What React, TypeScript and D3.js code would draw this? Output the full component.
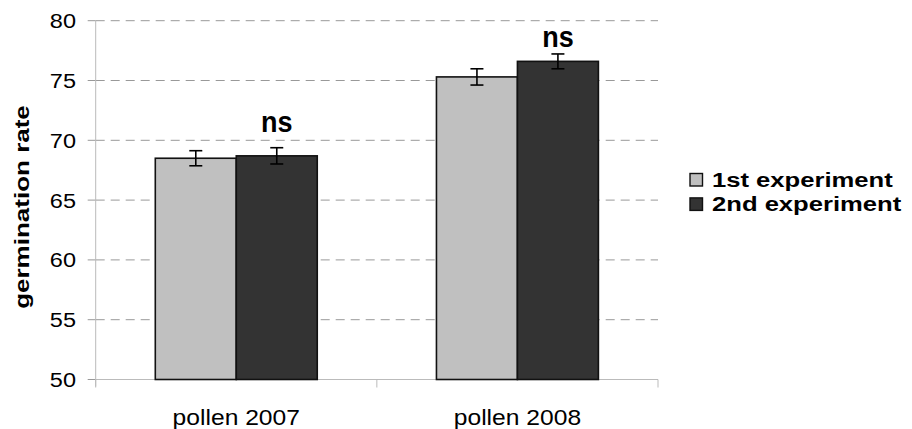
import * as d3 from 'd3';

const categories = ['pollen 2007', 'pollen 2008'];
const seriesNames = ['1st experiment', '2nd experiment'];
const firstExp = [68.5, 75.3];
const secondExp = [68.7, 76.6];
const firstErr = [0.63, 0.68];
const secondErr = [0.68, 0.62];
const yTicks = [50, 55, 60, 65, 70, 75, 80];
const nsLabels = ['ns', 'ns'];
const nsAt = [70.7, 77.8];

const W = 912;
const H = 429;
const fills = ['#c0c0c0', '#333333'];
const font = 'Arial, "Liberation Sans", sans-serif';

// stretched text, anchored at (x, y)
const SText = ({ x, y, sx = 1, sy = 1, rotate = 0, anchor = 'start', size, bold = false, children }: any) => (
  <text
    transform={`translate(${x},${y}) rotate(${rotate}) scale(${sx},${sy})`}
    textAnchor={anchor}
    fontFamily={font}
    fontSize={size}
    fontWeight={bold ? 'bold' : 'normal'}
    fill="#000"
  >
    {children}
  </text>
);

export default function App() {
  const left = 95.7;
  const right = 658;
  const top = 20.7;
  const bottom = 379.5;

  const y = d3.scaleLinear().domain([50, 80]).range([bottom, top]);
  const x0 = d3.scaleBand().domain(categories).range([left, right]).padding(0);
  const x1 = d3.scaleBand().domain(seriesNames).range([0, x0.bandwidth()]).paddingInner(0).paddingOuter(0.736);

  const values = [firstExp, secondExp];
  const errs = [firstErr, secondErr];

  const xTickPos = [left, ...categories.map(c => (x0(c) as number) + x0.bandwidth()), ];

  return (
    <svg width={W} height={H} style={{ position: 'absolute', left: 0, top: 0, background: '#fff' }}>
      {/* grid + y ticks */}
      {yTicks.map(t => (
        <g key={t}>
          {t !== 50 && (
            <line x1={left} x2={right} y1={y(t)} y2={y(t)} stroke="#999" strokeWidth={1} strokeDasharray="9,6" />
          )}
          <line x1={left - 8} x2={left} y1={y(t)} y2={y(t)} stroke="#999" strokeWidth={1} />
          <SText x={76} y={y(t) + 7.4} sx={1.12} anchor="end" size={21}>{t}</SText>
        </g>
      ))}

      {/* axes */}
      <line x1={left} x2={left} y1={top} y2={bottom + 7} stroke="#bbb" strokeWidth={1} />
      <line x1={left} x2={right} y1={bottom} y2={bottom} stroke="#bbb" strokeWidth={1} />
      {xTickPos.map((p, i) => (
        <line key={i} x1={p} x2={p} y1={bottom} y2={bottom + 8} stroke="#bbb" strokeWidth={1} />
      ))}

      {/* bars */}
      {categories.map((c, ci) => (
        <g key={c}>
          {seriesNames.map((s, si) => {
            const bx = (x0(c) as number) + (x1(s) as number);
            const bw = x1.bandwidth();
            const v = values[si][ci];
            const e = errs[si][ci];
            const cx = bx + bw / 2;
            return (
              <g key={s}>
                <rect x={bx} y={y(v)} width={bw} height={y(50) - y(v)} fill={fills[si]} stroke="#111" strokeWidth={1.6} />
                <line x1={cx} x2={cx} y1={y(v + e)} y2={y(v - e)} stroke="#000" strokeWidth={1.6} />
                <line x1={cx - 6.5} x2={cx + 6.5} y1={y(v + e)} y2={y(v + e)} stroke="#000" strokeWidth={1.6} />
                <line x1={cx - 6.5} x2={cx + 6.5} y1={y(v - e)} y2={y(v - e)} stroke="#000" strokeWidth={1.6} />
              </g>
            );
          })}
          <SText
            x={(x0(c) as number) + (x1(seriesNames[1]) as number) + x1.bandwidth() / 2}
            y={y(nsAt[ci])}
            anchor="middle"
            size={27}
            sy={1.08}
            bold
          >
            {nsLabels[ci]}
          </SText>
          <SText x={(x0(c) as number) + x0.bandwidth() / 2} y={425} sx={1.12} anchor="middle" size={22}>
            {c}
          </SText>
        </g>
      ))}

      {/* y label */}
      <SText x={29} y={207} rotate={-90} sx={1.3} anchor="middle" size={20} bold>germination rate</SText>

      {/* legend */}
      {seriesNames.map((s, i) => (
        <g key={s}>
          <rect x={690} y={173.5 + i * 24.4} width={12.5} height={12.5} fill={fills[i]} stroke="#111" strokeWidth={1.4} />
          <SText x={712} y={186.5 + i * 24.4} sx={1.22} size={21} bold>{s}</SText>
        </g>
      ))}
    </svg>
  );
}
